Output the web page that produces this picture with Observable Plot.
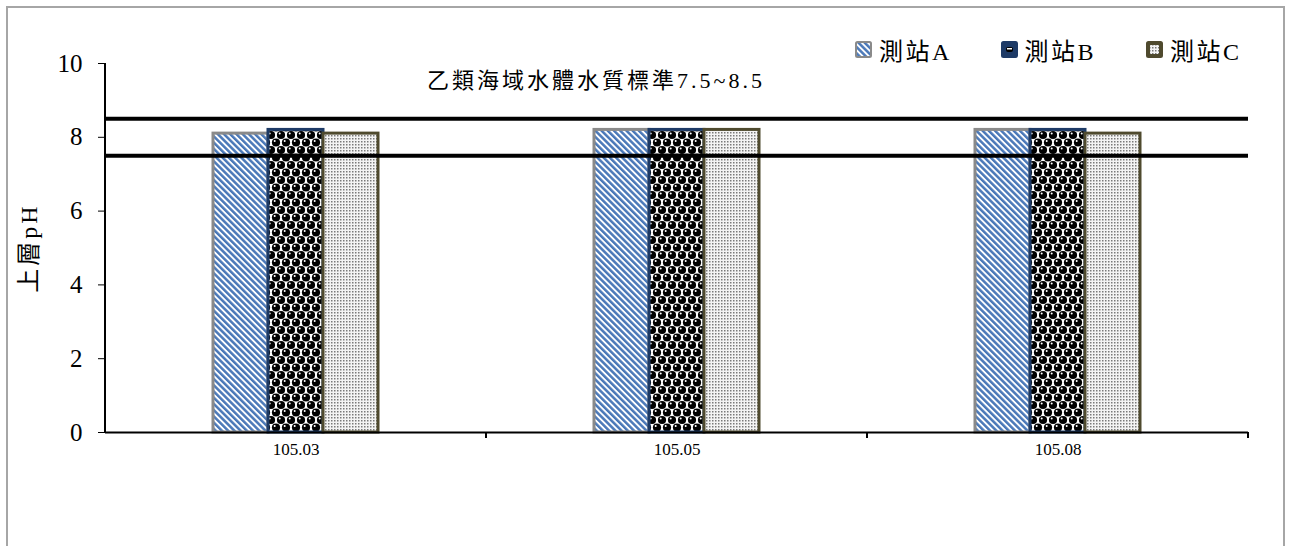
<!DOCTYPE html>
<html><head><meta charset="utf-8">
<script src="https://cdn.jsdelivr.net/npm/d3@7"></script>
<script src="https://cdn.jsdelivr.net/npm/@observablehq/plot@0.6"></script>
<style>
body{margin:0;background:#fff;}
#wrap{position:relative;width:1291px;height:546px;overflow:hidden;font-family:"Liberation Serif","Noto Sans CJK TC",serif;color:#000;}
#frame{position:absolute;left:6px;top:6px;width:1279px;height:600px;border:2px solid #a6a6a6;box-sizing:border-box;}
#chart{position:absolute;left:0;top:0;}
#note{position:absolute;left:427px;top:62px;font-size:22px;letter-spacing:3px;white-space:nowrap;}
.leg{position:absolute;top:32px;display:flex;align-items:center;font-size:24px;letter-spacing:2.5px;white-space:nowrap;}
.leg svg{margin-right:7px;}
</style>
</head><body>
<svg width="0" height="0" style="position:absolute">
  <defs>
    <pattern id="patA" width="4.4" height="4.4" patternUnits="userSpaceOnUse" patternTransform="rotate(-45)">
      <rect width="4.4" height="4.4" fill="#ffffff"/>
      <rect width="2.5" height="4.4" fill="#4a78b8"/>
    </pattern>
    <pattern id="patB" width="10" height="15" patternUnits="userSpaceOnUse">
      <rect width="10" height="15" fill="#ffffff"/>
      <circle cx="0" cy="0" r="4.1" fill="#000"/>
      <circle cx="10" cy="0" r="4.1" fill="#000"/>
      <circle cx="5" cy="7.5" r="4.1" fill="#000"/>
      <circle cx="0" cy="15" r="4.1" fill="#000"/>
      <circle cx="10" cy="15" r="4.1" fill="#000"/>
      <circle cx="3.7" cy="6" r="1" fill="#fff"/>
      <circle cx="-1.3" cy="-1.5" r="1" fill="#fff"/>
      <circle cx="8.7" cy="-1.5" r="1" fill="#fff"/>
      <circle cx="-1.3" cy="13.5" r="1" fill="#fff"/>
      <circle cx="8.7" cy="13.5" r="1" fill="#fff"/>
    </pattern>
    <pattern id="patC" width="3" height="3" patternUnits="userSpaceOnUse">
      <rect width="3" height="3" fill="#f4f4f4"/>
      <rect width="1.5" height="1.5" fill="#7a7a7a"/>
    </pattern>
  </defs>
</svg>
<div id="wrap">
  <div id="frame"></div>
  <div id="chart"></div>
  <div id="note"></div>
</div>
<script>
const dates = ["105.03", "105.05", "105.08"];
const series = ["測站A", "測站B", "測站C"];
const valuesA = [8.1, 8.2, 8.2];
const valuesB = [8.2, 8.2, 8.2];
const valuesC = [8.1, 8.2, 8.1];
const standardLines = [7.5, 8.5];
const yTicks = [0, 2, 4, 6, 8, 10];
const yLabel = "上層pH";
const noteText = "乙類海域水體水質標準7.5~8.5";

const seriesValues = [valuesA, valuesB, valuesC];
const fills = ["url(#patA)", "url(#patB)", "url(#patC)"];
const strokes = ["#8a8a8a", "#1d3a66", "#4f4a2e"];
const legendFills = ["url(#patA)", "#1d3a66", "#4f4a2e"];

const data = dates.flatMap((d, i) => series.map((s, j) => ({date: d, s, v: seriesValues[j][i]})));

const W = 1291, H = 546;
const chart = Plot.plot({
  width: W, height: H,
  marginLeft: 104, marginRight: 43, marginTop: 63, marginBottom: 114,
  style: {fontFamily: '"Liberation Serif","Noto Sans CJK TC",serif', background: "transparent", color: "#000"},
  fx: {domain: dates, padding: 0, axis: null},
  x: {domain: series, axis: null, paddingInner: 0, paddingOuter: 1.96},
  y: {domain: [0, 10], axis: null},
  marks: [
    ...series.map((s, j) => Plot.barY(data.filter(r => r.s === s), {
      fx: "date", x: "s", y: "v", fill: fills[j], stroke: strokes[j], strokeWidth: 3, inset: 0
    })),
    Plot.ruleY(standardLines, {stroke: "#000", strokeWidth: 4}),
    Plot.ruleY([0], {stroke: "#000", strokeWidth: 2}),
    Plot.axisY({ticks: yTicks, tickSize: 7, tickPadding: 16, fontSize: 25, label: yLabel, labelAnchor: "center", labelOffset: 86, tickFormat: d => String(d)}),
    Plot.axisFx({anchor: "bottom", tickSize: 0, tickPadding: 10, fontSize: 17, label: null})
  ]
});
document.getElementById("chart").appendChild(chart);

// y-axis line and category boundary ticks from the plot's own scales
const fx = chart.scale("fx"), y = chart.scale("y");
const svg = d3.select(chart);
const x0 = fx.apply(dates[0]);
svg.append("line").attr("x1", x0).attr("x2", x0)
  .attr("y1", y.apply(yTicks[yTicks.length - 1])).attr("y2", y.apply(0))
  .attr("stroke", "#000").attr("stroke-width", 2);
dates.forEach(d => {
  const xb = fx.apply(d) + fx.bandwidth;
  svg.append("line").attr("x1", xb).attr("x2", xb)
    .attr("y1", y.apply(0)).attr("y2", y.apply(0) + 6)
    .attr("stroke", "#000").attr("stroke-width", 2);
});
svg.selectAll('[aria-label="y-axis label"] text').attr("letter-spacing", "3px").attr("font-size", 24).text(yLabel);

document.getElementById("note").textContent = noteText;

// legend
const wrap = document.getElementById("wrap");
series.forEach((s, j) => {
  const el = document.createElement("div");
  el.className = "leg";
  el.style.left = (855 + j * 145.5) + "px";
  el.innerHTML = `<svg width="17" height="17"><rect x="1" y="1" width="15" height="15" rx="1.5" fill="${legendFills[j]}" stroke="${strokes[j]}" stroke-width="2"/>${j === 1 ? '<rect x="5" y="6" width="7" height="5" rx="2" fill="#000"/><rect x="6" y="7" width="5" height="1.5" fill="#fff"/>' : ''}${j === 2 ? '<rect x="4" y="4" width="9" height="9" fill="url(#patC)"/>' : ''}</svg><span>${s}</span>`;
  wrap.appendChild(el);
});
</script>
</body></html>
